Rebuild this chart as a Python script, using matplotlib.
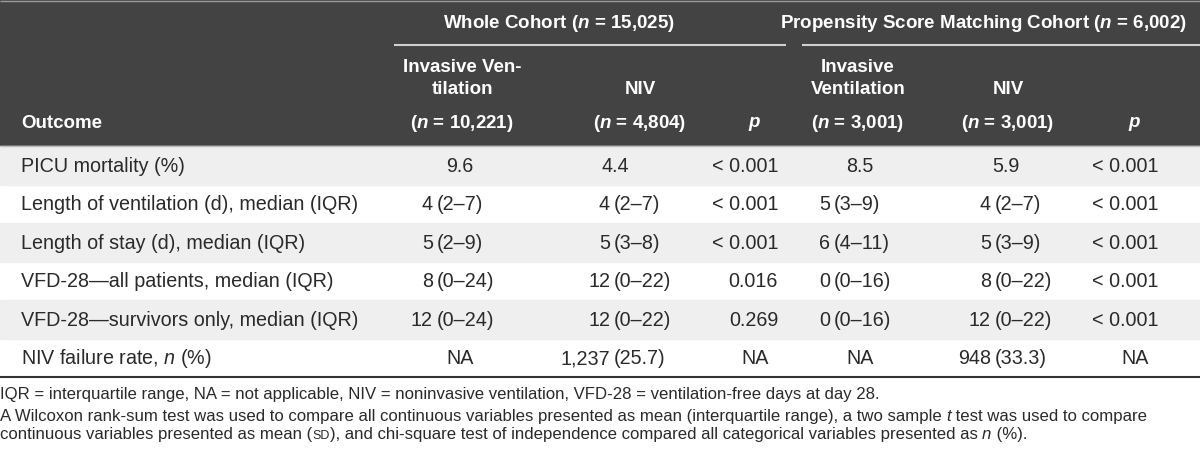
import matplotlib.pyplot as plt
import matplotlib.patches as mpatches

plt.rcParams['font.family'] = ['Liberation Sans', 'DejaVu Sans']
plt.rcParams['mathtext.fontset'] = 'custom'
plt.rcParams['mathtext.it'] = 'Liberation Sans:italic'
plt.rcParams['mathtext.bf'] = 'Liberation Sans:bold:italic'

# datos de la tabla
outcomes = ["PICU mortality (%)",
            "Length of ventilation (d), median (IQR)",
            "Length of stay (d), median (IQR)",
            "VFD-28\u2014all patients, median (IQR)",
            "VFD-28\u2014survivors only, median (IQR)",
            "NIV failure rate, $n$ (%)"]
whole_iv = ["9.6", "4 (2\u20137)", "5 (2\u20139)", "8 (0\u201324)", "12 (0\u201324)", "NA"]
whole_niv = ["4.4", "4 (2\u20137)", "5 (3\u20138)", "12 (0\u201322)", "12 (0\u201322)", "1,237 (25.7)"]
whole_p = ["< 0.001", "< 0.001", "< 0.001", "0.016", "0.269", "NA"]
psm_iv = ["8.5", "5 (3\u20139)", "6 (4\u201311)", "0 (0\u201316)", "0 (0\u201316)", "NA"]
psm_niv = ["5.9", "4 (2\u20137)", "5 (3\u20139)", "8 (0\u201322)", "12 (0\u201322)", "948 (33.3)"]
psm_p = ["< 0.001", "< 0.001", "< 0.001", "< 0.001", "< 0.001", "NA"]

groups = [r"Whole Cohort ($\mathbf{n}$ = 15,025)",
          r"Propensity Score Matching Cohort ($\mathbf{n}$ = 6,002)"]
col_heads = [["Invasive Ven-", "tilation"], ["NIV"], [],
             ["Invasive", "Ventilation"], ["NIV"], []]
col_n = [r"($\mathbf{n}$ = 10,221)", r"($\mathbf{n}$ = 4,804)", r"$\mathbf{p}$",
         r"($\mathbf{n}$ = 3,001)", r"($\mathbf{n}$ = 3,001)", r"$\mathbf{p}$"]

footnote1 = "IQR = interquartile range, NA = not applicable, NIV = noninvasive ventilation, VFD-28 = ventilation-free days at day 28."
footnote2 = [("A Wilcoxon rank-sum test was used to compare all continuous variables presented as mean (interquartile range), a two sample ", {}),
             ("t", {'style': 'italic'}),
             (" test was used to compare", {})]
footnote3 = [("continuous variables presented as mean (", {}),
             ("SD", {'fontsize': 9}),
             ("), and chi-square test of independence compared all categorical variables presented as ", {}),
             ("n", {'style': 'italic'}),
             (" (%).", {})]

# layout (pixeles)
W, H = 1200, 449
header_bottom = 146
row_h = 38.5
head_center = [462, 640, 755, 858, 1008, 1135]
val_center = [460, 615, 755, 860, 1006, 1135]
col_split = [437, 614, None, 834, 995, None]
p_right = {2: 778, 5: 1159}
head_color = '#434343'
txt = '#2a2a2a'
fs_head = 13.5
fs_body = 14.2
fs_note = 12.1

fig = plt.figure(figsize=(12, 4.49), dpi=100)
ax = fig.add_axes([0, 0, 1, 1])
ax.set_xlim(0, W)
ax.set_ylim(H, 0)
ax.axis('off')

# encabezado oscuro
ax.add_patch(mpatches.Rectangle((0, 0), W, header_bottom, color=head_color, zorder=0))
ax.hlines(0.5, 0, W, color='#9a9a9a', lw=1)
ax.hlines(header_bottom, 0, W, color='#bdbdbd', lw=1)

ax.text(559, 24, groups[0], color='white', fontsize=fs_head, fontweight='bold', ha='center', va='center')
ax.text(983, 24, groups[1], color='white', fontsize=fs_head, fontweight='bold', ha='center', va='center')
ax.hlines(45, 394, 786, color='#d0d0d0', lw=1.5)
ax.hlines(45, 802, W, color='#d0d0d0', lw=1.5)

ax.text(21, 124, "Outcome", color='white', fontsize=fs_head, fontweight='bold', ha='left', va='center')
for j in range(6):
    lines = col_heads[j]
    for k, ln in enumerate(lines):
        y = 89 - 21 * (len(lines) - 1 - k)
        ax.text(head_center[j], y, ln, color='white', fontsize=fs_head, fontweight='bold', ha='center', va='center')
    ax.text(head_center[j], 124, col_n[j], color='white', fontsize=fs_head, fontweight='bold', ha='center', va='center')

# filas
columns = [whole_iv, whole_niv, whole_p, psm_iv, psm_niv, psm_p]
for i, name in enumerate(outcomes):
    top = header_bottom + i * row_h
    if i % 2 == 0:
        ax.add_patch(mpatches.Rectangle((0, top), W, row_h, color='#efefef', zorder=0))
    y = top + row_h / 2 + 1
    ax.text(21, y, name, color=txt, fontsize=fs_body, ha='left', va='center')
    for j, col in enumerate(columns):
        s = col[i]
        if j in p_right and s != "NA":
            ax.text(p_right[j], y, s, color=txt, fontsize=fs_body, ha='right', va='center')
        elif " (" in s and col_split[j] is not None:
            head, tail = s.split(" (", 1)
            ax.text(col_split[j] - 4, y, head, color=txt, fontsize=fs_body, ha='right', va='center')
            ax.text(col_split[j], y, "(" + tail, color=txt, fontsize=fs_body, ha='left', va='center')
        else:
            ax.text(val_center[j], y, s, color=txt, fontsize=fs_body, ha='center', va='center')

table_bottom = header_bottom + len(outcomes) * row_h
ax.hlines(table_bottom, 0, W, color='#333333', lw=1.5)

# notas al pie
ax.text(0, 395, footnote1, color=txt, fontsize=fs_note, ha='left', va='center')


def chain_text(x, y, pieces):
    prev = None
    for s, kw in pieces:
        opts = dict(color=txt, fontsize=fs_note, va='bottom')
        opts.update(kw)
        if prev is None:
            prev = ax.text(x, y, s, ha='left', **opts)
        else:
            prev = ax.annotate(s, xy=(1, 0), xycoords=prev, ha='left', **opts)


chain_text(0, 424, footnote2)
chain_text(0, 442, footnote3)

fig.savefig('out.png', dpi=100)
